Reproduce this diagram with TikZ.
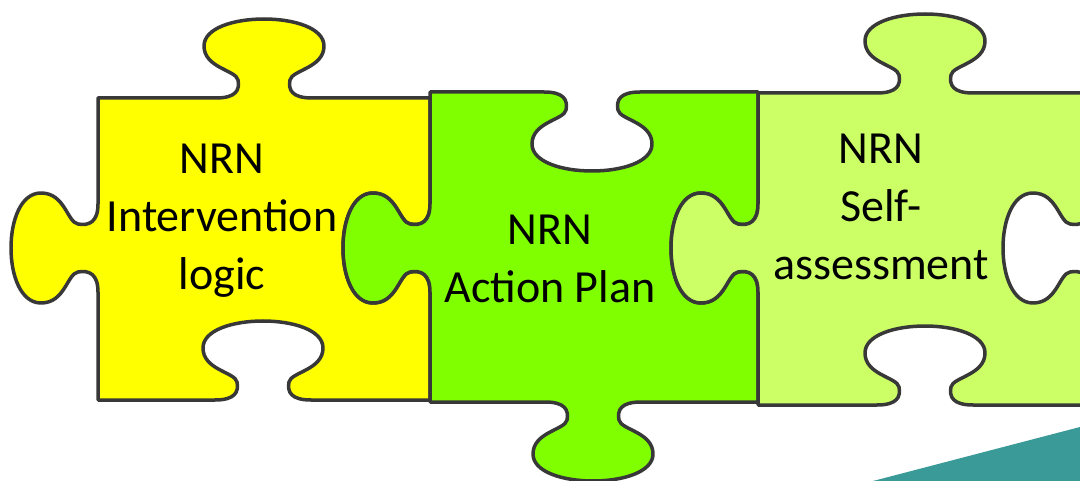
\documentclass[tikz,border=0pt]{standalone}
\usepackage{fontspec}
\setmainfont{Carlito}
\definecolor{pyellow}{HTML}{FFFF00}
\definecolor{pgreen}{HTML}{80FF00}
\definecolor{plight}{HTML}{CCFF66}
\definecolor{edgegray}{HTML}{383838}
\definecolor{tealbg}{HTML}{3A9A98}
\tikzset{
 piece/.style={draw=edgegray, line width=3.5pt, line join=round},
 lbl/.style={align=center, font=\fontsize{46}{58}\selectfont, text=black, inner sep=0pt},
 htab/.style n args={4}{insert path={
   -- ({#1+(#3)*(-48)},{#2})
   .. controls ({#1+(#3)*(-28)},{#2}) and ({#1+(#3)*(-24)},{#2+(#4)*8}) .. ({#1+(#3)*(-26)},{#2+(#4)*18})
   .. controls ({#1+(#3)*(-28)},{#2+(#4)*28}) and ({#1+(#3)*(-60)},{#2+(#4)*30}) .. ({#1+(#3)*(-60)},{#2+(#4)*52})
   .. controls ({#1+(#3)*(-60)},{#2+(#4)*70}) and ({#1+(#3)*(-30)},{#2+(#4)*79}) .. ({#1},{#2+(#4)*79})
   .. controls ({#1+(#3)*30},{#2+(#4)*79}) and ({#1+(#3)*60},{#2+(#4)*70}) .. ({#1+(#3)*60},{#2+(#4)*52})
   .. controls ({#1+(#3)*60},{#2+(#4)*30}) and ({#1+(#3)*28},{#2+(#4)*28}) .. ({#1+(#3)*26},{#2+(#4)*18})
   .. controls ({#1+(#3)*24},{#2+(#4)*8}) and ({#1+(#3)*28},{#2}) .. ({#1+(#3)*48},{#2})
 }},
 vtab/.style n args={4}{insert path={
   -- ({#1},{#2+(#3)*(-44)})
   .. controls ({#1},{#2+(#3)*(-26)}) and ({#1+(#4)*9},{#2+(#3)*(-22)}) .. ({#1+(#4)*20},{#2+(#3)*(-24)})
   .. controls ({#1+(#4)*31},{#2+(#3)*(-26)}) and ({#1+(#4)*33},{#2+(#3)*(-55)}) .. ({#1+(#4)*57},{#2+(#3)*(-55)})
   .. controls ({#1+(#4)*77},{#2+(#3)*(-55)}) and ({#1+(#4)*87},{#2+(#3)*(-28)}) .. ({#1+(#4)*87},{#2})
   .. controls ({#1+(#4)*87},{#2+(#3)*28}) and ({#1+(#4)*77},{#2+(#3)*55}) .. ({#1+(#4)*57},{#2+(#3)*55})
   .. controls ({#1+(#4)*33},{#2+(#3)*55}) and ({#1+(#4)*31},{#2+(#3)*26}) .. ({#1+(#4)*20},{#2+(#3)*24})
   .. controls ({#1+(#4)*9},{#2+(#3)*22}) and ({#1},{#2+(#3)*26}) .. ({#1},{#2+(#3)*44})
 }}
}
\begin{document}
\begin{tikzpicture}[x=1pt,y=-1pt]
\useasboundingbox (0,0) rectangle (1080,481);
\clip (0,0) rectangle (1080,481);
\fill[white] (0,0) rectangle (1080,481);
\fill[tealbg] (873,481) -- (1080,427) -- (1080,481) -- cycle;
% yellow piece
\draw[piece, fill=pyellow] (98,98) [htab={264}{98}{1}{-1}] -- (430,98)
  [vtab={430}{248}{1}{-1}] -- (430,400)
  [htab={263}{400}{-1}{-1}] -- (98,400)
  [vtab={98}{248}{-1}{-1}] -- cycle;
% green piece
\draw[piece, fill=pgreen] (430,92) [htab={592}{92}{1}{1}] -- (758,92)
  [vtab={758}{248}{1}{-1}] -- (758,402)
  [htab={593}{402}{-1}{1}] -- (430,402)
  [vtab={430}{248}{-1}{-1}] -- cycle;
% light green piece
\draw[piece, fill=plight] (758,93) [htab={925}{93}{1}{-1}] -- (1090,93)
  [vtab={1090}{248}{1}{-1}] -- (1090,405)
  [htab={925}{405}{-1}{-1}] -- (758,405)
  [vtab={758}{248}{-1}{-1}] -- cycle;
\node[lbl] (yl) at (222,221) {NRN\\Intervention\\logic};
\node[lbl] (gl) at (550,259) {NRN\\Action Plan};
\node[lbl] (ll) at (881,207) {NRN\\Self-\\assessment};
\end{tikzpicture}
\end{document}
